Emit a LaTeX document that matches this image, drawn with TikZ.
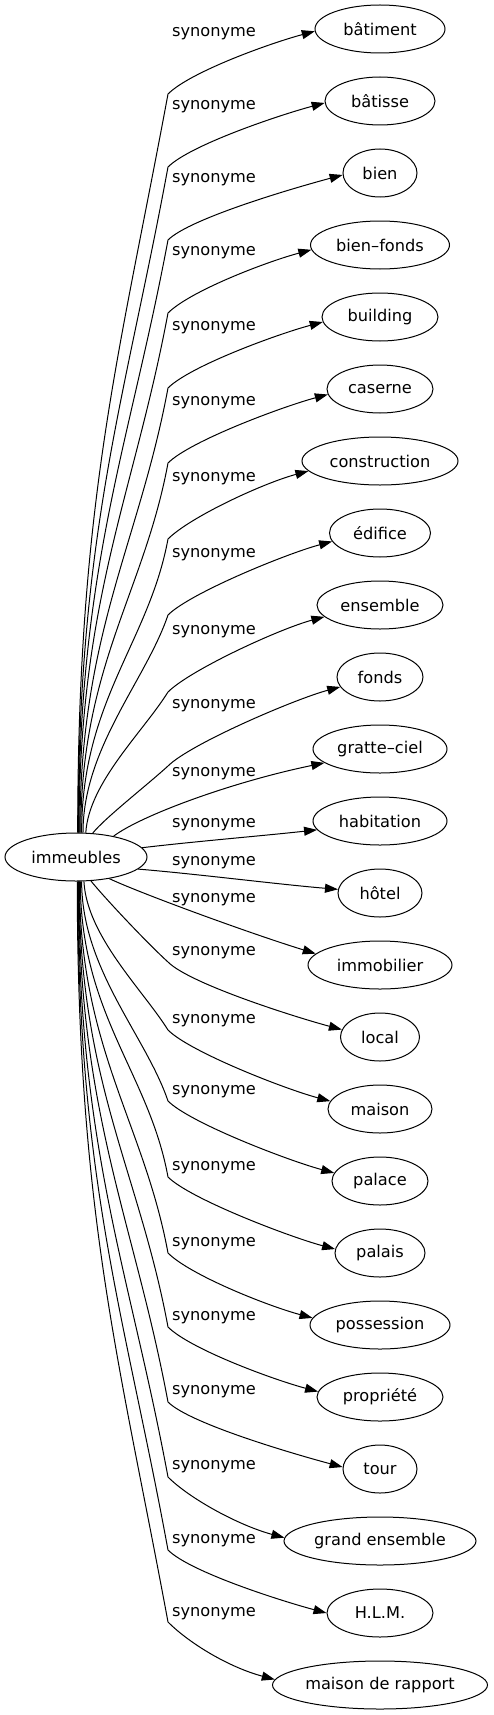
\documentclass[tikz,border=0pt]{standalone}
\usepackage{fontspec}
\setmainfont{DejaVu Sans}
\usetikzlibrary{shapes.geometric,arrows.meta}

\begin{document}
\begin{tikzpicture}[x=1pt, y=-1pt,
  font=\fontsize{16.2pt}{19pt}\selectfont,
  word/.style={ellipse, draw, line width=1pt, minimum height=48pt, inner sep=0pt},
  syn/.style={line width=1pt, -{Triangle[length=13pt,width=9pt]}},
  lab/.style={inner sep=0pt}]
  \useasboundingbox (0,0) rectangle (493,1715);

  % Mot de départ
  \node[word, minimum width=142pt] (imm) at (76,857) {immeubles};

  % Synonymes
  \node[word, minimum width=130pt] (n0) at (380,29) {bâtiment};
  \node[word, minimum width=110pt] (n1) at (380,101) {bâtisse};
  \node[word, minimum width=74pt] (n2) at (380,173) {bien};
  \node[word, minimum width=139pt] (n3) at (380,245) {bien–fonds};
  \node[word, minimum width=116pt] (n4) at (380,317) {building};
  \node[word, minimum width=106pt] (n5) at (380,389) {caserne};
  \node[word, minimum width=156pt] (n6) at (380,461) {construction};
  \node[word, minimum width=101pt] (n7) at (380,533) {édifice};
  \node[word, minimum width=126pt] (n8) at (380,605) {ensemble};
  \node[word, minimum width=86pt] (n9) at (380,677) {fonds};
  \node[word, minimum width=134pt] (n10) at (380,749) {gratte–ciel};
  \node[word, minimum width=134pt] (n11) at (380,821) {habitation};
  \node[word, minimum width=84pt] (n12) at (380,893) {hôtel};
  \node[word, minimum width=144pt] (n13) at (380,965) {immobilier};
  \node[word, minimum width=79pt] (n14) at (380,1037) {local};
  \node[word, minimum width=104pt] (n15) at (380,1109) {maison};
  \node[word, minimum width=96pt] (n16) at (380,1181) {palace};
  \node[word, minimum width=90pt] (n17) at (380,1253) {palais};
  \node[word, minimum width=140pt] (n18) at (380,1325) {possession};
  \node[word, minimum width=126pt] (n19) at (380,1397) {propriété};
  \node[word, minimum width=74pt] (n20) at (380,1469) {tour};
  \node[word, minimum width=192pt] (n21) at (380,1541) {grand ensemble};
  \node[word, minimum width=106pt] (n22) at (380,1613) {H.L.M.};
  \node[word, minimum width=215pt] (n23) at (380,1685) {maison de rapport};

  % Etiquettes
  \node[lab] (l0) at (214,34) {synonyme};
  \node[lab] (l1) at (214,107) {synonyme};
  \node[lab] (l2) at (214,180) {synonyme};
  \node[lab] (l3) at (214,253) {synonyme};
  \node[lab] (l4) at (214,328) {synonyme};
  \node[lab] (l5) at (214,403) {synonyme};
  \node[lab] (l6) at (214,479) {synonyme};
  \node[lab] (l7) at (214,555) {synonyme};
  \node[lab] (l8) at (214,632) {synonyme};
  \node[lab] (l9) at (214,706) {synonyme};
  \node[lab] (l10) at (214,774) {synonyme};
  \node[lab] (l11) at (214,825) {synonyme};
  \node[lab] (l12) at (214,863) {synonyme};
  \node[lab] (l13) at (214,900) {synonyme};
  \node[lab] (l14) at (214,953) {synonyme};
  \node[lab] (l15) at (214,1021) {synonyme};
  \node[lab] (l16) at (214,1092) {synonyme};
  \node[lab] (l17) at (214,1168) {synonyme};
  \node[lab] (l18) at (214,1244) {synonyme};
  \node[lab] (l19) at (214,1318) {synonyme};
  \node[lab] (l20) at (214,1392) {synonyme};
  \node[lab] (l21) at (214,1467) {synonyme};
  \node[lab] (l22) at (214,1541) {synonyme};
  \node[lab] (l23) at (214,1614) {synonyme};

  % Arêtes vers le haut
  \draw[syn] (imm.86) .. controls +(0,-333) and +(-48,259) .. (168,94)
    .. controls +(22,-22) and +(-45,12) .. (n0.182);
  \draw[syn] (imm.85) .. controls +(0,-300) and +(-43,233) .. (168,167)
    .. controls +(22,-22) and +(-45,12) .. (n1.182);
  \draw[syn] (imm.84) .. controls +(0,-267) and +(-39,208) .. (168,240)
    .. controls +(22,-22) and +(-45,12) .. (n2.183);
  \draw[syn] (imm.83) .. controls +(0,-234) and +(-34,182) .. (168,313)
    .. controls +(22,-22) and +(-45,12) .. (n3.184);
  \draw[syn] (imm.81) .. controls +(0,-200) and +(-29,156) .. (168,388)
    .. controls +(22,-22) and +(-45,12) .. (n4.185);
  \draw[syn] (imm.79) .. controls +(0,-167) and +(-24,130) .. (168,463)
    .. controls +(22,-22) and +(-45,12) .. (n5.186);
  \draw[syn] (imm.77) .. controls +(0,-132) and +(-19,103) .. (168,539)
    .. controls +(22,-22) and +(-45,12) .. (n6.188);
  \draw[syn] (imm.74) .. controls +(0,-85) and +(-22,65) .. (168,615)
    .. controls +(22,-22) and +(-45,12) .. (n7.190);
  \draw[syn] (imm.68) .. controls +(3,-50) and +(-25,40) .. (168,692)
    .. controls +(22,-22) and +(-45,12) .. (n8.192);
  \draw[syn] (imm.55) .. controls +(12,-15) and +(-22,20) .. (168,766)
    .. controls +(22,-22) and +(-45,12) .. (n9.194);
  \draw[syn] (imm.29) .. controls +(28,-21) and +(-92,19) .. (n10.194);
  \draw[syn] (imm.8) .. controls +(50,-6) and +(-55,6) .. (n11.188);

  % Arêtes vers le bas
  \draw[syn] (imm.349) .. controls +(60,5) and +(-60,-5) .. (n12.175);
  \draw[syn] (imm.327) .. controls +(32,15) and +(-65,-20) .. (n13.170);
  \draw[syn] (imm.302) .. controls +(12,15) and +(-22,-20) .. (168,962)
    .. controls +(22,22) and +(-45,-12) .. (n14.169);
  \draw[syn] (imm.288) .. controls +(3,55) and +(-25,-40) .. (168,1030)
    .. controls +(22,22) and +(-45,-12) .. (n15.171);
  \draw[syn] (imm.283) .. controls +(0,88) and +(-22,-65) .. (168,1101)
    .. controls +(22,22) and +(-45,-12) .. (n16.170);
  \draw[syn] (imm.280) .. controls +(0,133) and +(-19,-104) .. (168,1177)
    .. controls +(22,22) and +(-45,-12) .. (n17.175);
  \draw[syn] (imm.278) .. controls +(0,167) and +(-24,-130) .. (168,1253)
    .. controls +(22,22) and +(-45,-12) .. (n18.174);
  \draw[syn] (imm.277) .. controls +(0,201) and +(-29,-156) .. (168,1327)
    .. controls +(22,22) and +(-45,-12) .. (n19.175);
  \draw[syn] (imm.276) .. controls +(0,234) and +(-34,-182) .. (168,1402)
    .. controls +(22,22) and +(-45,-12) .. (n20.177);
  \draw[syn] (imm.275) .. controls +(0,268) and +(-39,-209) .. (168,1477)
    .. controls +(22,22) and +(-45,-12) .. (n21.178);
  \draw[syn] (imm.274) .. controls +(0,301) and +(-43,-234) .. (168,1550)
    .. controls +(22,22) and +(-45,-12) .. (n22.180);
  \draw[syn] (imm.273) .. controls +(0,333) and +(-48,-259) .. (168,1622)
    .. controls +(22,22) and +(-45,-12) .. (n23.177);
\end{tikzpicture}
\end{document}
